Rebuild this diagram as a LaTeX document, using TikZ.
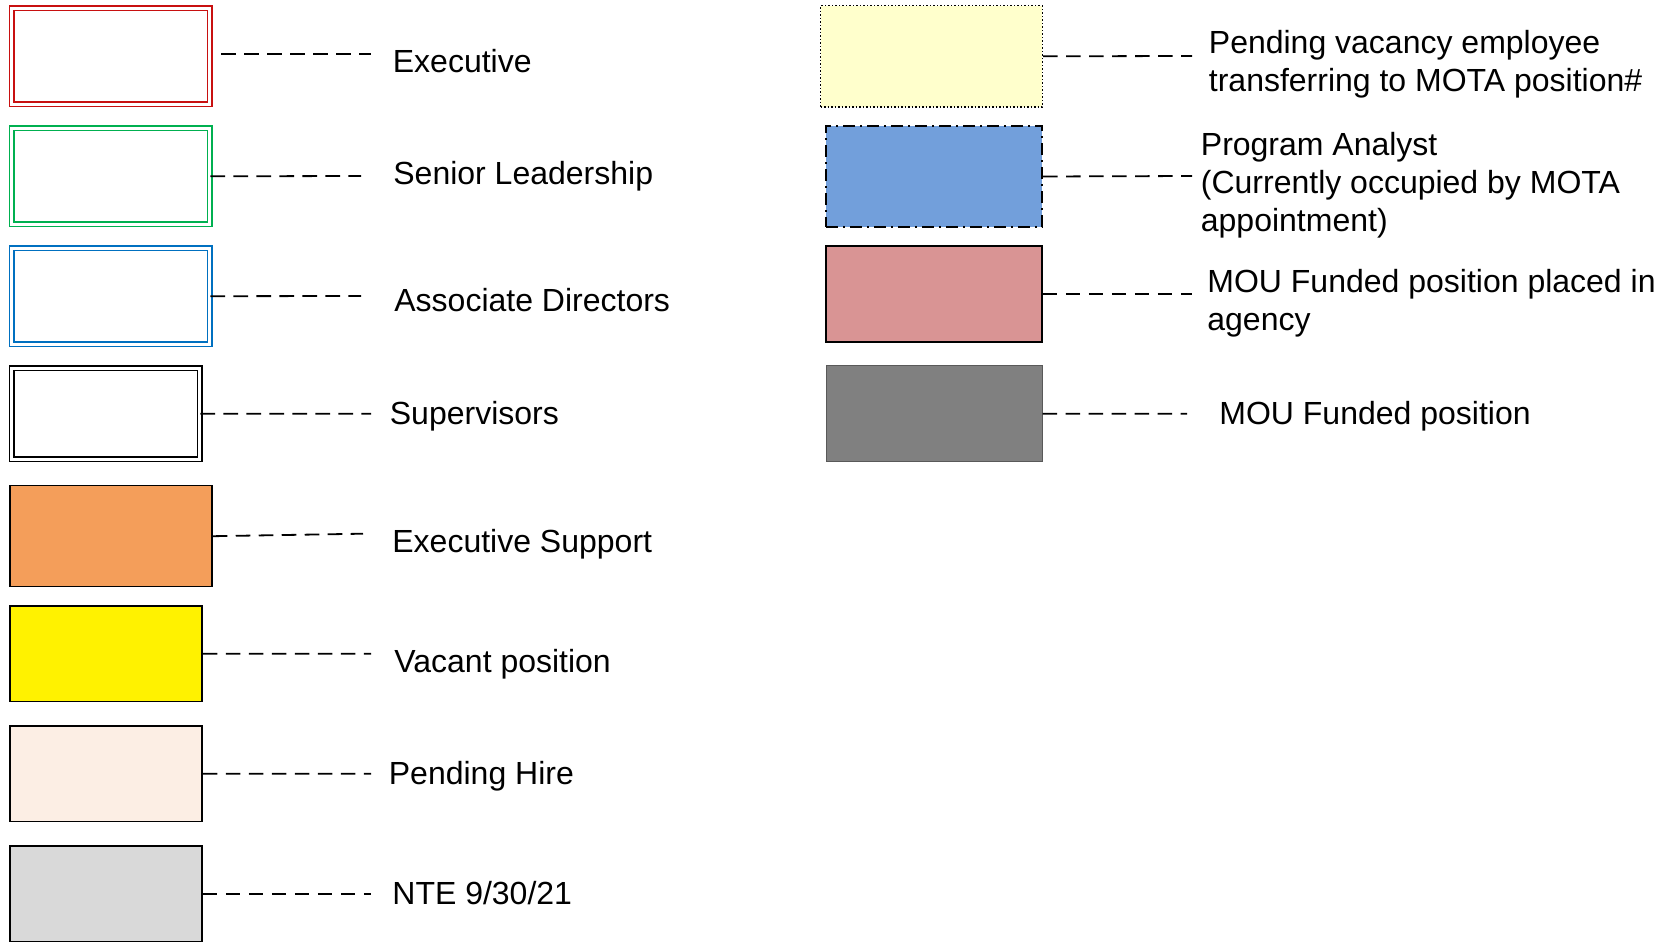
\documentclass[tikz,border=0pt]{standalone}
\usepackage{fontspec}
\setmainfont{Liberation Sans}
\newcommand{\keyfont}{\fontsize{16}{19}\selectfont}
\definecolor{execred}{RGB}{200,16,16}
\definecolor{leadgreen}{RGB}{0,176,80}
\definecolor{assocblue}{RGB}{0,112,192}
\definecolor{supportorange}{RGB}{244,158,90}
\definecolor{hirecream}{RGB}{252,238,228}
\definecolor{ntegray}{RGB}{217,217,217}
\definecolor{motayellow}{RGB}{255,255,204}
\definecolor{analystblue}{RGB}{114,159,219}
\definecolor{agencyrose}{RGB}{217,148,148}
\definecolor{mougray}{RGB}{128,128,128}
\tikzset{
  keybox/.style={draw, inner sep=0pt, line width=0.75pt},
  dblbox/.style={keybox, double=white, double distance=1.5pt,
    minimum width=98.85pt, minimum height=48.15pt},
  fillbox/.style={keybox, minimum width=96pt, minimum height=47.85pt},
  rightbox/.style={keybox, minimum width=108pt, minimum height=48pt},
  keyline/.style={line width=0.9pt, dash pattern=on 7.3pt off 4.2pt, black},
  keylabel/.style={anchor=base west, inner sep=0pt, font=\keyfont, align=left}
}
\begin{document}
\begin{tikzpicture}[x=0.5pt,y=-0.5pt]
        \useasboundingbox (0,0) rectangle (1676,942);
        %% left column
        \node[dblbox, draw=execred] (exec) at (110.8,56.3) {};
        \node[dblbox, draw=leadgreen] (senior) at (110.8,176.3) {};
        \node[dblbox, draw=assocblue] (assoc) at (110.8,296.2) {};
        \node[dblbox, draw=black, minimum width=93.85pt, minimum height=45.65pt] (superv) at (105.8,413.8) {};
        \node[fillbox, fill=supportorange, minimum width=101pt, minimum height=50.5pt] (exsupp) at (111,536.2) {};
        \node[fillbox, fill=yellow] (vacant) at (106,653.8) {};
        \node[fillbox, fill=hirecream] (pendhire) at (106,773.8) {};
        \node[fillbox, fill=ntegray] (nte) at (106,893.7) {};
        %% right column
        \node[rightbox, fill=motayellow, densely dotted, minimum width=110.8pt, minimum height=50.65pt] (pendvac) at (931.5,56.3) {};
        \node[rightbox, fill=analystblue, line width=1pt, dash pattern=on 6pt off 2.5pt on 1pt off 2.5pt, minimum height=50.5pt] (progan) at (934,176.5) {};
        \node[rightbox, fill=agencyrose] (moup) at (934,294) {};
        \node[rightbox, fill=mougray, draw=black!65, line width=0.5pt] (mouf) at (934,413.8) {};
        %% free ends of the leader lines
        \coordinate (execa) at (221,53.7);
        \coordinate (execb) at (371,53.7);
        \coordinate (seniorb) at (361,176);
        \coordinate (assocb) at (361,296);
        \coordinate (supervb) at (371,413.7);
        \coordinate (exsuppb) at (363,533.7);
        \coordinate (vacantb) at (371,653.7);
        \coordinate (pendhireb) at (371,773.7);
        \coordinate (nteb) at (371,893.7);
        \coordinate (pendvacb) at (1192,56);
        \coordinate (proganb) at (1192,176);
        \coordinate (moupb) at (1192,294);
        \coordinate (moufb) at (1187,413.7);
        \draw[keyline] (execa) -- (execb);
        \draw[keyline] (senior.east) -- (seniorb);
        \draw[keyline] (assoc.east) -- (assocb);
        \draw[keyline] (superv.east) -- (supervb);
        \draw[keyline] (exsupp.east) -- (exsuppb);
        \draw[keyline] (vacant.east) -- (vacantb);
        \draw[keyline] (pendhire.east) -- (pendhireb);
        \draw[keyline] (nte.east) -- (nteb);
        \draw[keyline] (pendvac.east) -- (pendvacb);
        \draw[keyline] (progan.east) -- (proganb);
        \draw[keyline] (moup.east) -- (moupb);
        \draw[keyline] (mouf.east) -- (moufb);
        %% labels (multi-line ones sit on their last baseline)
        \node[keylabel] (execlabel) at (392.5,72.5) {Executive};
        \node[keylabel] (seniorlabel) at (393,184.5) {Senior Leadership};
        \node[keylabel] (assoclabel) at (394,311.5) {Associate Directors};
        \node[keylabel] (supervlabel) at (389.5,424.5) {Supervisors};
        \node[keylabel] (exsupplabel) at (392,552.5) {Executive Support};
        \node[keylabel] (vacantlabel) at (394,672.5) {Vacant position};
        \node[keylabel] (pendhirelabel) at (388.5,784.5) {Pending Hire};
        \node[keylabel] (ntelabel) at (392,904.5) {NTE 9/30/21};
        \node[keylabel] (pendvaclabel) at (1208.5,91) {Pending vacancy employee\\transferring to MOTA position\#};
        \node[keylabel] (proganlabel) at (1200.5,231.3) {Program Analyst\\(Currently occupied by MOTA\\appointment)};
        \node[keylabel] (mouplabel) at (1207,330.5) {MOU Funded position placed in\\agency};
        \node[keylabel] (mouflabel) at (1219,424) {MOU Funded position};
    \end{tikzpicture}
\end{document}
